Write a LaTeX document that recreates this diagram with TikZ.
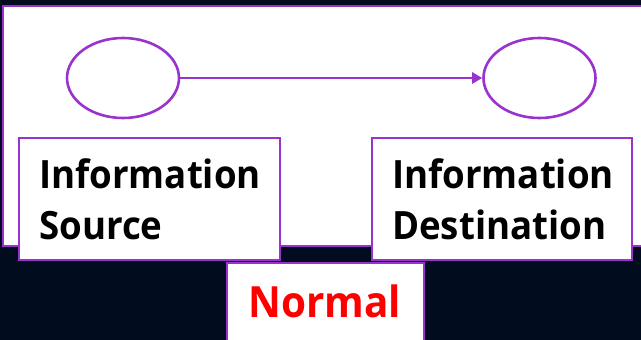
\documentclass[tikz,border=0pt]{standalone}
\usepackage{fontspec}
\setmainfont{Open Sans}[FakeStretch=0.94]
\usetikzlibrary{arrows.meta,shapes.geometric}
\definecolor{navy}{HTML}{010D1F}
\definecolor{orchid}{HTML}{9A32CD}
\tikzset{
  frame/.style={draw=orchid, line width=2.4pt, fill=white},
  endpoint/.style={ellipse, draw=orchid, line width=2.6pt, minimum width=112pt, minimum height=80pt, inner sep=0pt},
  labelbox/.style={frame, rectangle, align=left, inner xsep=20pt, inner ysep=0pt,
    minimum height=122pt, font=\fontsize{39}{51}\selectfont\bfseries, anchor=north west},
}
\begin{document}
\begin{tikzpicture}[x=1pt, y=-1pt]
  \useasboundingbox (0,0) rectangle (641,340);
  \clip (0,0) rectangle (641,340);
  \fill[navy] (0,0) rectangle (641,340);
  % outer panel, running off the right edge
  \draw[frame] (3,6) rectangle (650,246);
  % the two end points and the link between them
  \node[endpoint] (src) at (123,78) {};
  \node[endpoint] (dst) at (539.5,78) {};
  \draw[orchid, line width=2.6pt, -{Triangle[length=10pt, width=11pt]}] (src) -- (dst);
  % captions
  \node[labelbox, text width=221pt] (srcbox) at (18,137) {Information\\Source};
  \node[labelbox, text width=220pt] (dstbox) at (371,137) {Information\\Destination};
  \draw[frame] (227,263) rectangle (424,350);
  \node[font=\fontsize{43}{50}\selectfont\bfseries, text=red] (mode) at (325,301) {Normal};
\end{tikzpicture}
\end{document}
